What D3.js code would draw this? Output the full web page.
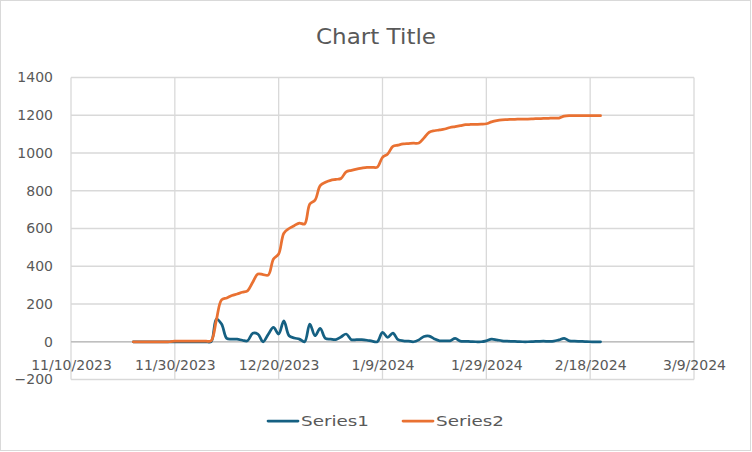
<!DOCTYPE html>
<html><head><meta charset="utf-8">
<script src="https://cdn.jsdelivr.net/npm/d3@7"></script>
<style>
html,body{margin:0;padding:0;background:#fff;}
svg text{font-family:"DejaVu Sans",sans-serif;fill:#595959;}
</style></head>
<body>
<svg id="chart" width="752" height="452"></svg>
<script>
// ---- data ----
const firstDate = "2023-11-22"; // daily observations from this date
const series1 = [0,0,0,0,0,0,0,0,0,0,0,0,0,0,0,0,120,94,18,14,14,8,5,45,40,0,40,76,41,111,32,20,14,0,94,32,71,18,14,11,25,41,11,11,11,8,3,0,50,23,46,11,5,3,0,10,28,30,15,5,5,5,18,3,2,1,0,0,5,14,10,5,3,2,1,0,0,1,2,3,2,3,10,18,5,3,2,1,0,0,0];
const series2 = [0,0,0,0,0,0,0,0,3,3,3,3,3,3,3,5,115,222,232,245,253,262,270,315,359,356,353,438,465,575,600,615,629,624,730,750,827,845,855,860,865,900,908,915,920,924,924,925,977,995,1035,1042,1048,1050,1052,1053,1080,1110,1118,1122,1127,1135,1140,1145,1150,1151,1152,1153,1155,1165,1172,1176,1177,1178,1179,1180,1180,1181,1182,1183,1184,1185,1185,1195,1198,1198,1198,1198,1198,1198,1198];
const seriesNames = ["Series1","Series2"];
const seriesColors = ["#156082","#E97132"];
const yTicks = [-200,0,200,400,600,800,1000,1200,1400];
const xTickLabels = ["11/10/2023","11/30/2023","12/20/2023","1/9/2024","1/29/2024","2/18/2024","3/9/2024"];
const chartTitle = "Chart Title";

// ---- setup ----
const svg = d3.select("#chart");
const parse = d3.utcParse("%m/%d/%Y");
const tickDates = xTickLabels.map(parse);
const start = new Date(firstDate + "T00:00:00Z");
const dates = series1.map((_, i) => d3.utcDay.offset(start, i));

const x = d3.scaleUtc().domain([tickDates[0], tickDates[tickDates.length-1]]).range([71, 694]);
const y = d3.scaleLinear().domain([-200, 1400]).range([379.5, 77.5]);

// outer border
svg.append("rect").attr("x",0.5).attr("y",0.5).attr("width",750).attr("height",450)
  .attr("fill","#fff").attr("stroke","#d9d9d9");

// title
svg.append("text").attr("x",376).attr("y",44).attr("text-anchor","middle")
  .style("font-size","22px").attr("textLength",120).attr("lengthAdjust","spacingAndGlyphs").text(chartTitle);

// gridlines
const grid = svg.append("g").attr("stroke","#d9d9d9").attr("stroke-width",1.3);
grid.selectAll("line.h").data(yTicks).join("line")
  .attr("x1",x.range()[0]).attr("x2",x.range()[1])
  .attr("y1",d=>y(d)).attr("y2",d=>y(d));
grid.selectAll("line.v").data(tickDates).join("line")
  .attr("x1",d=>x(d)).attr("x2",d=>x(d))
  .attr("y1",y(1400)).attr("y2",y(-200));

// zero axis line
svg.append("line").attr("x1",x.range()[0]).attr("x2",x.range()[1])
  .attr("y1",y(0)).attr("y2",y(0)).attr("stroke","#bfbfbf").attr("stroke-width",1.3);

// y axis labels
const yAxis = svg.append("g").attr("transform",`translate(${x.range()[0]},0)`)
  .call(d3.axisLeft(y).tickValues(yTicks).tickSize(0).tickPadding(18).tickFormat(d3.format("d")));
yAxis.select(".domain").remove();
yAxis.selectAll("text").style("font-size","14px").style("font-family","DejaVu Sans").attr("fill","#595959");

// x axis labels at zero line
const xAxis = svg.append("g").attr("transform",`translate(0,${y(0)})`)
  .call(d3.axisBottom(x).tickValues(tickDates).tickSize(0).tickPadding(18).tickFormat(d3.utcFormat("%-m/%-d/%Y")));
xAxis.select(".domain").remove();
xAxis.selectAll("text").style("font-size","14px").style("font-family","DejaVu Sans").attr("fill","#595959");

// lines
const line = d3.line().x(d=>x(d[0])).y(d=>y(d[1])).curve(d3.curveCatmullRom.alpha(0.5));
[series1, series2].forEach((s, k) => {
  svg.append("path").datum(s.map((v,i)=>[dates[i], v]))
    .attr("d", line).attr("fill","none").attr("stroke",seriesColors[k])
    .attr("stroke-width",2.75).attr("stroke-linejoin","round").attr("stroke-linecap","round");
});

// legend
const legendX = [268, 403];
seriesNames.forEach((n, k) => {
  const g = svg.append("g").attr("transform",`translate(${legendX[k]},421)`);
  g.append("line").attr("x1",0).attr("x2",30).attr("y1",0).attr("y2",0)
    .attr("stroke",seriesColors[k]).attr("stroke-width",2.75).attr("stroke-linecap","round");
  g.append("text").attr("x",33).attr("y",5).style("font-size","14px")
    .attr("textLength",68).attr("lengthAdjust","spacingAndGlyphs").text(n);
});
</script>
</body></html>
